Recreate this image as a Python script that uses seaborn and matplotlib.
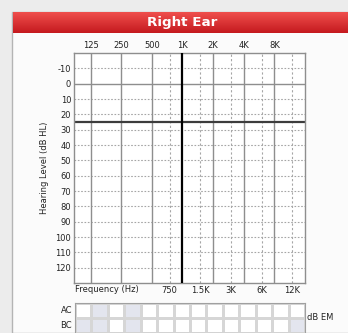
import numpy as np
import pandas as pd
import matplotlib
matplotlib.use('Agg')
import matplotlib.pyplot as plt
from matplotlib.patches import Rectangle
import seaborn as sns

sns.set_style('white')
plt.rcParams['font.family'] = ['DejaVu Sans']

# --- data -------------------------------------------------------------
octave_freqs = [125, 250, 500, 1000, 2000, 4000, 8000]
octave_labels = ['125', '250', '500', '1K', '2K', '4K', '8K']
mid_freqs = [750, 1500, 3000, 6000, 12000]
mid_labels = ['750', '1.5K', '3K', '6K', '12K']
levels = list(range(-10, 130, 10))
level_labels = [str(v) for v in levels]
normal_limit = 25
mask_rows = ['AC', 'BC']
ac_mask = [0, 1, 0, 1, 0, 0, 0, 0, 0, 0, 0, 0, 0, 0]
bc_mask = [1, 1, 0, 1, 0, 0, 0, 0, 0, 0, 0, 0, 0, 1]

W, H = 348, 333
OUTER = '#ececec'; PANEL = '#fbfbfb'; GRID = '#8e8e8e'; DOT = '#a6a6a6'
TXT = '#222222'

def fx(px): return px / W
def fy(py): return 1 - py / H

fig = plt.figure(figsize=(W / 100, H / 100), dpi=100)
fig.patch.set_facecolor(OUTER)

# panel + red title bar
fig.patches.append(Rectangle((fx(12), 0), 1, fy(12), transform=fig.transFigure,
                             facecolor=PANEL, edgecolor='#b4b4b4', lw=1, zorder=-10))
bar = fig.add_axes([fx(13), fy(33), 1 - fx(13), (33 - 12) / H])
grad = np.linspace(0, 1, 64).reshape(-1, 1)
top_c = np.array([0.94, 0.31, 0.30]); bot_c = np.array([0.77, 0.10, 0.12])
bar.imshow(top_c + grad[..., None] * (bot_c - top_c), aspect='auto', extent=[0, 1, 0, 1])
bar.set_axis_off()
fig.text(fx(182), fy(22.5), 'Right Ear', color='white', fontsize=9.7,
         fontweight='bold', ha='center', va='center')

# --- audiogram grid ---------------------------------------------------
ax = fig.add_axes([fx(74), fy(283), (305 - 74) / W, (283 - 53) / H])
ax.set_facecolor('white')
ax.set_xscale('log')
ax.set_xlim(86, 16000)
ax.set_ylim(130, -20)

for f in octave_freqs:
    if f == 1000:
        ax.axvline(f, color='black', lw=1.6, zorder=3)
    else:
        ax.axvline(f, color=GRID, lw=1, zorder=2)
for f in mid_freqs:
    ax.axvline(f, color=DOT, lw=0.8, ls=(0, (2, 2)), zorder=1)
for v in levels:
    if v == 0:
        ax.axhline(v, color=GRID, lw=1, zorder=2)
    else:
        ax.axhline(v, color=DOT, lw=0.8, ls=(0, (1.5, 1.5)), zorder=1)
ax.axhline(normal_limit, color='#3c3c3c', lw=1.6, zorder=2)

ax.xaxis.tick_top()
ax.set_xticks(octave_freqs)
ax.set_xticklabels(octave_labels)
ax.xaxis.set_minor_locator(matplotlib.ticker.NullLocator())
ax.tick_params(axis='x', length=0, pad=2.5, labelsize=6, colors=TXT)
sec = ax.secondary_xaxis('bottom')
sec.set_xticks(mid_freqs)
sec.set_xticklabels(mid_labels)
sec.xaxis.set_minor_locator(matplotlib.ticker.NullLocator())
sec.tick_params(axis='x', length=0, pad=2.5, labelsize=6, colors=TXT)
sec.spines['bottom'].set_visible(False)

ax.set_yticks(levels)
ax.set_yticklabels(level_labels)
ax.tick_params(axis='y', length=0, pad=2, labelsize=6, colors=TXT)
ax.set_ylabel('Hearing Level (dB HL)', fontsize=6, color=TXT, labelpad=5)
for sp in ax.spines.values():
    sp.set_color(GRID); sp.set_linewidth(1)

fig.text(fx(75), fy(290), 'Frequency (Hz)', fontsize=6, color=TXT,
         ha='left', va='center')

# --- masking table ----------------------------------------------------
mask = pd.DataFrame([ac_mask, bc_mask], index=mask_rows)
tax = fig.add_axes([fx(75), fy(333), (305 - 75) / W, (333 - 302.5) / H])
sns.heatmap(mask, ax=tax, cmap=['#ffffff', '#e3e5ee'], cbar=False,
            linewidths=0.8, linecolor='#d6d6d6', xticklabels=False,
            yticklabels=mask_rows)
tax.tick_params(axis='y', length=0, pad=2, labelsize=6, colors=TXT, rotation=0)
for sp in tax.spines.values():
    sp.set_visible(True); sp.set_color('#a0a0a0'); sp.set_linewidth(0.8)
fig.text(fx(307), fy(317), 'dB EM', fontsize=6, color=TXT, ha='left', va='center')

fig.savefig('out.png', dpi=100, facecolor=OUTER)
